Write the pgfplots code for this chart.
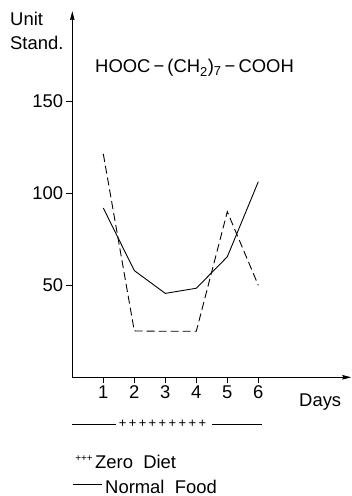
\documentclass[border=0pt]{standalone}
\usepackage{pgfplots}
\pgfplotsset{compat=1.18}
\usepackage{fontspec}
\setmainfont{Liberation Sans}
\usetikzlibrary{arrows.meta}
\newcommand{\lab}{\fontsize{18.5}{21}\selectfont}
\begin{document}
\begin{tikzpicture}
\path[use as bounding box] (-72.3bp,-118.7bp) rectangle (279.7bp,377.3bp);
\begin{axis}[
  x=31bp, y=1.84bp,
  xmin=0, xmax=9, ymin=0, ymax=199,
  axis lines=left,
  axis line style={line width=0.9bp, -{Stealth[length=9bp,width=4.5bp,inset=1bp]}},
  xtick={1,2,3,4,5,6}, ytick={50,100,150},
  tick align=outside,
  major tick length=6bp,
  tick style={line width=0.8bp, black},
  tick label style={font=\lab},
  /pgf/number format/assume math mode=true,
  yticklabel style={inner sep=0pt, xshift=-3bp},
  xticklabel style={inner sep=0pt, yshift=-2bp},
  clip=false,
]
\addplot[line width=0.9bp, black] coordinates {(1,92) (2,58) (3,45.6) (4,48.4) (5,65.5) (6,106.3)};
\addplot[line width=0.9bp, black, dash pattern=on 8bp off 4bp] coordinates {(1,121.4) (2,25.2) (3,25) (4,25) (5,90) (6,50)};
\end{axis}
\node[anchor=base west, inner sep=0pt, font=\lab] at (-62.3bp,351.3bp) {Unit};
\node[anchor=base west, inner sep=0pt, font=\lab] at (-62.3bp,327.3bp) {Stand.};
\node[anchor=base west, inner sep=0pt, font=\lab] at (22.7bp,304.3bp) {HOOC\,−\,(CH\textsubscript{2})\textsubscript{7}\,−\,COOH};
\node[anchor=base west, inner sep=0pt, font=\lab] at (226.7bp,-29.4bp) {Days};
\draw[line width=0.8bp] (0bp,-46.7bp) -- (43.7bp,-46.7bp);
\draw[line width=0.8bp] (139.7bp,-46.7bp) -- (189.7bp,-46.7bp);
\node[inner sep=0pt, font=\fontsize{13}{13}\selectfont] at (90.2bp,-46.7bp) {+\kern2.4bp+\kern2.4bp+\kern2.4bp+\kern2.4bp+\kern2.4bp+\kern2.4bp+\kern2.4bp+\kern2.4bp+};
\node[inner sep=0pt, font=\fontsize{10}{10}\selectfont] at (11.7bp,-81.5bp) {+++};
\node[anchor=base west, inner sep=0pt, font=\lab] at (22.7bp,-90.7bp) {Zero\ \ Diet};
\draw[line width=0.8bp] (0.7bp,-107bp) -- (29.7bp,-107bp);
\node[anchor=base west, inner sep=0pt, font=\lab] at (32.7bp,-116.3bp) {Normal\ \ Food};
\end{tikzpicture}
\end{document}
